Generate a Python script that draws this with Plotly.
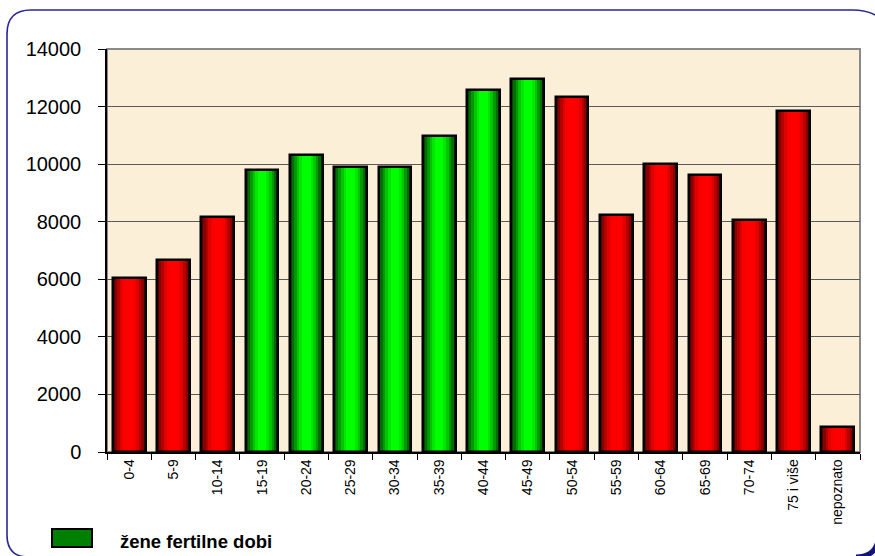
import plotly.graph_objects as go

# ---- data ----
age_groups = ["0-4", "5-9", "10-14", "15-19", "20-24", "25-29", "30-34", "35-39",
              "40-44", "45-49", "50-54", "55-59", "60-64", "65-69", "70-74",
              "75 i više", "nepoznato"]
women = [6050, 6670, 8160, 9780, 10330, 9910, 9910, 10970,
         12560, 12970, 12350, 8220, 10020, 9620, 8050, 11840, 860]
fertile = [False, False, False, True, True, True, True, True,
           True, True, False, False, False, False, False, False, False]
legend_label = "žene fertilne dobi"
y_ticks = [0, 2000, 4000, 6000, 8000, 10000, 12000, 14000]

# ---- layout geometry (pixels) ----
W, H = 875, 556
L, R, T, B = 107, 15, 49, 104
PW, PH = W - L - R, H - T - B


def px(x):
    return (x - L) / PW


def py(y):
    return (H - B - y) / PH


FONT = "Liberation Sans, Arial, sans-serif"

# gradient layers: (relative width, red colour, green colour)
layers = [
    (1.00, "#540000", "#004400"),
    (0.88, "#860000", "#006c00"),
    (0.74, "#b50000", "#009800"),
    (0.58, "#df0000", "#00c600"),
    (0.42, "#f70000", "#00e800"),
    (0.26, "#ff0000", "#00ff00"),
]
BW = 0.74

fig = go.Figure()
for w, red, green in layers:
    fig.add_trace(go.Bar(
        x=age_groups, y=women, width=BW * w,
        marker=dict(color=[green if f else red for f in fertile], line=dict(width=0)),
        showlegend=False, hoverinfo="skip",
    ))
# outline on top
fig.add_trace(go.Bar(
    x=age_groups, y=women, width=BW,
    marker=dict(color="rgba(0,0,0,0)", line=dict(color="black", width=2.5)),
    showlegend=False, hovertemplate="%{x}: %{y}<extra></extra>",
))

shapes = []
# plot-area border (grey top/right)
shapes.append(dict(type="rect", xref="paper", yref="paper", x0=0, y0=0, x1=1, y1=1,
                   line=dict(color="#8a8a8a", width=2), layer="below"))

# frame: rounded rectangle; right and bottom edges fall outside the canvas
fx0, fy0, fx1, fy1 = 7, 10, 892, 557
r_tl, r_tr, r_bl = 24, 40, 22
frame_path = (
    f"M {px(fx0 + r_tl)},{py(fy0)} L {px(fx1 - r_tr)},{py(fy0)} "
    f"Q {px(fx1)},{py(fy0)} {px(fx1)},{py(fy0 + r_tr)} "
    f"L {px(fx1)},{py(fy1)} "
    f"L {px(fx0 + r_bl)},{py(fy1)} Q {px(fx0)},{py(fy1)} {px(fx0)},{py(fy1 - r_bl)} "
    f"L {px(fx0)},{py(fy0 + r_tl)} Q {px(fx0)},{py(fy0)} {px(fx0 + r_tl)},{py(fy0)} Z"
)
shapes.append(dict(type="path", xref="paper", yref="paper", path=frame_path,
                   line=dict(color="#262696", width=1.6), fillcolor="rgba(0,0,0,0)"))
# shadow at bottom-right corner
shapes.append(dict(type="path", xref="paper", yref="paper",
                   path=f"M {px(879)},{py(532)} Q {px(879)},{py(557)} {px(856)},{py(557)}",
                   line=dict(color="#14147a", width=5)))
# legend swatch
shapes.append(dict(type="rect", xref="paper", yref="paper",
                   x0=px(52), x1=px(92), y0=py(529), y1=py(547),
                   fillcolor="#008000", line=dict(color="black", width=2)))

annotations = [dict(xref="paper", yref="paper", x=px(118), y=py(541),
                    text=f"<b>{legend_label}</b>", showarrow=False,
                    xanchor="left", yanchor="middle",
                    font=dict(family=FONT, size=18.5, color="black"))]

fig.update_layout(
    width=W, height=H,
    margin=dict(l=L, r=R, t=T, b=B, pad=0),
    paper_bgcolor="white", plot_bgcolor="#fcefd8",
    barmode="overlay", bargap=0,
    font=dict(family=FONT, color="black"),
    shapes=shapes, annotations=annotations,
    showlegend=False,
)
fig.update_xaxes(
    type="category", categoryorder="array", categoryarray=age_groups,
    tickangle=-90, tickfont=dict(size=14, family=FONT),
    ticks="outside", tickson="boundaries", ticklen=6, tickcolor="black", tickwidth=1,
    showline=True, linecolor="black", linewidth=1.5,
    showgrid=False, range=[-0.5, len(age_groups) - 0.5],
)
fig.update_yaxes(
    range=[0, 14000], tickvals=y_ticks, ticktext=[str(v) for v in y_ticks],
    tickfont=dict(size=20, family=FONT),
    ticks="outside", ticklen=7, tickcolor="black", tickwidth=1,
    ticklabelstandoff=13,
    showline=True, linecolor="black", linewidth=1.5,
    showgrid=True, gridcolor="#5a5a5a", gridwidth=1, zeroline=False,
)

fig.write_html("out.html", config={"displayModeBar": False},
               post_script="document.body.style.margin='0';document.body.style.overflow='hidden';")
